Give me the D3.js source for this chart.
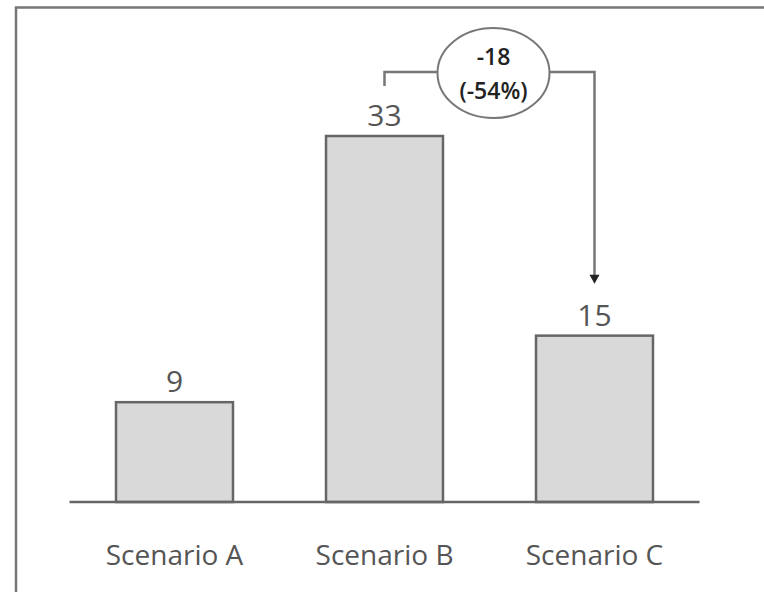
<!DOCTYPE html>
<html>
<head>
<meta charset="utf-8">
<style>
    body { margin: 0; background: #fff; }
    svg { display: block; }
    .val, .cat { font-family: "Open Sans", sans-serif; fill: #555; }
    .note { font-family: "Open Sans", sans-serif; fill: #222; font-weight: 600; }
</style>
</head>
<body>
<svg id="chart" width="764" height="592"></svg>
<script src="https://cdn.jsdelivr.net/npm/d3@7"></script>
<script>
    let categories = ["Scenario A", "Scenario B", "Scenario C"]
    let values = [9, 33, 15]
    let noteFrom = 1, noteTo = 2
    let noteLines = ["-18", "(-54%)"]

    let svg = d3.select("#chart")

    // frame (top + left rules)
    svg.append("path")
        .attr("d", "M16,764 V7.5 H764")
        .attr("fill", "none")
        .attr("stroke", "#777")
        .attr("stroke-width", 2.5)

    let x = d3.scaleBand()
        .domain(categories)
        .range([69.5, 699.5])
        .paddingInner(0.443)
        .paddingOuter(0.2215)

    let y = d3.scaleLinear()
        .domain([0, 33])
        .range([502, 136])

    svg.selectAll(".bar")
        .data(values)
        .enter()
        .append("rect")
        .attr("class", "bar")
        .attr("x", (d, i) => x(categories[i]))
        .attr("y", d => y(d))
        .attr("width", x.bandwidth())
        .attr("height", d => y(0) - y(d))
        .attr("fill", "#d9d9d9")
        .attr("stroke", "#666")
        .attr("stroke-width", 2.5)

    // baseline
    svg.append("line")
        .attr("x1", x.range()[0]).attr("x2", x.range()[1])
        .attr("y1", y(0)).attr("y2", y(0))
        .attr("stroke", "#666")
        .attr("stroke-width", 2.5)

    svg.selectAll(".val")
        .data(values)
        .enter()
        .append("text")
        .attr("class", "val")
        .attr("x", (d, i) => x(categories[i]) + x.bandwidth() / 2)
        .attr("y", d => y(d) - 10)
        .attr("text-anchor", "middle")
        .attr("font-size", 30)
        .text(d => d)

    svg.selectAll(".cat")
        .data(categories)
        .enter()
        .append("text")
        .attr("class", "cat")
        .attr("x", d => x(d) + x.bandwidth() / 2)
        .attr("y", 565)
        .attr("text-anchor", "middle")
        .attr("font-size", 28)
        .text(d => d)

    // difference annotation: bracket from B to arrow on C
    let xa = x(categories[noteFrom]) + x.bandwidth() / 2
    let xb = x(categories[noteTo]) + x.bandwidth() / 2
    let yTop = 72
    let g = svg.append("g")
    g.append("path")
        .attr("d", `M${xa},${yTop + 14} V${yTop} H${xb} V${y(values[noteTo]) - 58}`)
        .attr("fill", "none")
        .attr("stroke", "#777")
        .attr("stroke-width", 2.5)
    g.append("path")
        .attr("d", `M${xb - 5},${y(values[noteTo]) - 61} L${xb + 5},${y(values[noteTo]) - 61} L${xb},${y(values[noteTo]) - 52} Z`)
        .attr("fill", "#222")

    let cx = (xa + xb) / 2 + 4
    g.append("ellipse")
        .attr("cx", cx).attr("cy", 73)
        .attr("rx", 56).attr("ry", 45)
        .attr("fill", "#fff")
        .attr("stroke", "#777")
        .attr("stroke-width", 2)
    g.selectAll(".note")
        .data(noteLines)
        .enter()
        .append("text")
        .attr("class", "note")
        .attr("x", cx)
        .attr("y", (d, i) => 65 + i * 34)
        .attr("text-anchor", "middle")
        .attr("font-size", 23)
        .text(d => d)
</script>
</body>
</html>
